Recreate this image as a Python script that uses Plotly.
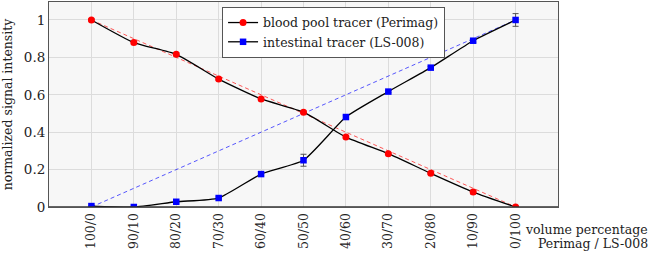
import plotly.graph_objects as go

categories = ["100/0", "90/10", "80/20", "70/30", "60/40", "50/50", "40/60", "30/70", "20/80", "10/90", "0/100"]
blood_pool = [1.0, 0.879, 0.816, 0.684, 0.578, 0.507, 0.374, 0.285, 0.18, 0.08, 0.0]
blood_err = [0.006, 0.008, 0.008, 0.006, 0.006, 0.006, 0.006, 0.006, 0.006, 0.01, 0.004]
intestinal = [0.005, 0.0, 0.028, 0.048, 0.176, 0.25, 0.481, 0.617, 0.745, 0.889, 1.0]
intestinal_err = [0.004, 0.004, 0.006, 0.006, 0.006, 0.032, 0.008, 0.006, 0.006, 0.008, 0.034]
ideal_blood = [1.0, 0.9, 0.8, 0.7, 0.6, 0.5, 0.4, 0.3, 0.2, 0.1, 0.0]
ideal_intestinal = [0.0, 0.1, 0.2, 0.3, 0.4, 0.5, 0.6, 0.7, 0.8, 0.9, 1.0]
y_ticks = [0, 0.2, 0.4, 0.6, 0.8, 1]
y_tick_labels = ["0", "0.2", "0.4", "0.6", "0.8", "1"]

FONT = "DejaVu Serif"
xs = list(range(len(categories)))

fig = go.Figure()
fig.add_trace(go.Scatter(x=xs, y=ideal_blood, mode="lines", showlegend=False,
                         line=dict(color="rgba(255,0,0,0.65)", width=1, dash="4px,3px"), hoverinfo="skip"))
fig.add_trace(go.Scatter(x=xs, y=ideal_intestinal, mode="lines", showlegend=False,
                         line=dict(color="rgba(0,0,255,0.65)", width=1, dash="4px,3px"), hoverinfo="skip"))
fig.add_trace(go.Scatter(
    x=xs, y=blood_pool, mode="lines+markers", name="blood pool tracer (Perimag)",
    line=dict(color="black", width=1.3, shape="spline", smoothing=0.5),
    marker=dict(symbol="circle", size=7, color="#ff0000"),
    error_y=dict(type="data", array=blood_err, color="#555555", thickness=1, width=3)))
fig.add_trace(go.Scatter(
    x=xs, y=intestinal, mode="lines+markers", name="intestinal tracer (LS-008)",
    line=dict(color="black", width=1.3, shape="spline", smoothing=0.5),
    marker=dict(symbol="square", size=6.5, color="#0000ff"),
    error_y=dict(type="data", array=intestinal_err, color="#555555", thickness=1, width=3)))

fig.update_layout(
    width=652, height=254,
    margin=dict(l=49, r=94, t=2, b=47, autoexpand=False),
    paper_bgcolor="white", plot_bgcolor="#f7f7f7",
    font=dict(family=FONT, size=12, color="#222222"),
    showlegend=True,
    legend=dict(x=0.34, y=0.976, xanchor="left", yanchor="top",
                bgcolor="white", bordercolor="#555555", borderwidth=1,
                font=dict(family=FONT, size=12.5, color="#222222"),
                tracegroupgap=0, itemwidth=30),
    xaxis=dict(range=[-1, 11], tickmode="array", tickvals=xs, ticktext=categories,
               tickangle=-90, showgrid=True, gridcolor="#dcdcdc", gridwidth=1, automargin=False,
               zeroline=False, showline=True, linecolor="#555555", linewidth=1, mirror=True,
               ticks="", tickfont=dict(family=FONT, size=12.5)),
    yaxis=dict(range=[0, 1.096], tickmode="array", tickvals=y_ticks, ticktext=y_tick_labels,
               showgrid=True, gridcolor="#dcdcdc", gridwidth=1, zeroline=False, automargin=False,
               showline=True, linecolor="#555555", linewidth=1, mirror=True, ticks="",
               title=dict(text="normalized signal intensity", font=dict(family=FONT, size=12.5), standoff=8),
               tickfont=dict(family=FONT, size=13.5)),
)
fig.add_shape(type="line", xref="paper", yref="y", x0=0, x1=1, y0=0, y1=0,
              line=dict(color="#333333", width=1.5))
fig.add_annotation(xref="paper", yref="paper", x=1.181, y=0, yshift=-22,
                   text="volume percentage", showarrow=False, xanchor="right", yanchor="middle",
                   font=dict(family=FONT, size=12.5, color="#222222"))
fig.add_annotation(xref="paper", yref="paper", x=1.181, y=0, yshift=-36,
                   text="Perimag / LS-008", showarrow=False, xanchor="right", yanchor="middle",
                   font=dict(family=FONT, size=12.5, color="#222222"))

fig.write_html("out.html", config={"displayModeBar": False},
               post_script="document.body.style.margin='0';document.body.style.padding='0';")
